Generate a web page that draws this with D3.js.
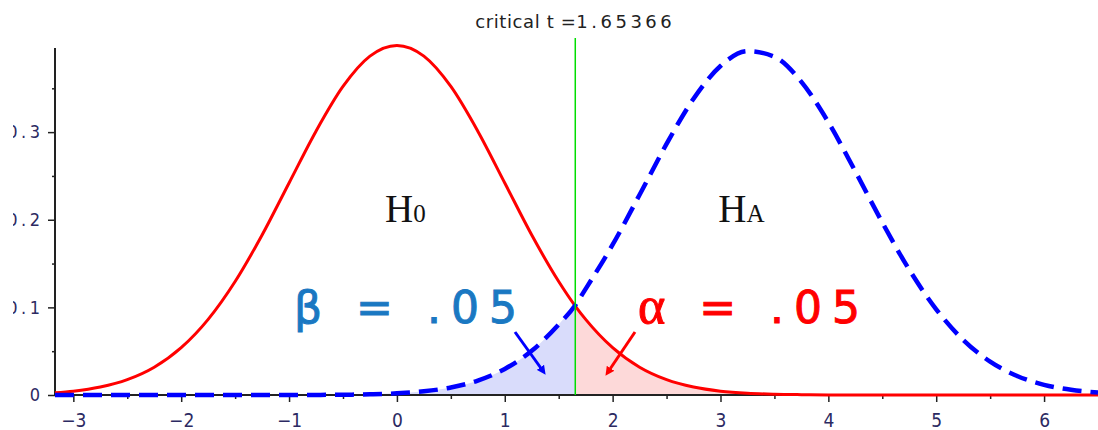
<!DOCTYPE html>
<html>
<head>
<meta charset="utf-8">
<script src="https://cdn.jsdelivr.net/npm/d3@7"></script>
<style>
  body { margin: 0; background: #fff; }
  svg { display: block; }
  .tick text { font-family: "DejaVu Sans Condensed", "DejaVu Sans", sans-serif; }
</style>
</head>
<body>
<div class="canvas"></div>
<script>
// data
const critT = 1.65366;
const tValues = [-3.17, -3, -2.75, -2.5, -2.25, -2, -1.75, -1.5, -1.25, -1, -0.75, -0.5, -0.25, 0,
  0.25, 0.5, 0.75, 1, 1.25, 1.5, 1.65366, 1.75, 2, 2.25, 2.5, 2.75, 3, 3.25, 3.5, 3.75, 4,
  4.25, 4.5, 4.75, 5, 5.25, 5.5, 5.75, 6, 6.25, 6.5];
const h0Density = [0.0026, 0.0044, 0.0091, 0.0175, 0.0317, 0.054, 0.0863, 0.1295, 0.1826, 0.242, 0.3011, 0.3521, 0.3867, 0.3989,
  0.3867, 0.3521, 0.3011, 0.242, 0.1826, 0.1295, 0.1015, 0.0863, 0.054, 0.0317, 0.0175, 0.0091, 0.0044, 0.002, 0.0009, 0.0004, 0.0001,
  0, 0, 0, 0, 0, 0, 0, 0, 0, 0];
const haDensity = [0, 0, 0, 0, 0, 0, 0, 0, 0, 0, 0.0001, 0.0003, 0.0008, 0.0019,
  0.0042, 0.0086, 0.0164, 0.0297, 0.0504, 0.0805, 0.1025, 0.1211, 0.1715, 0.2285, 0.2865, 0.3381, 0.3754, 0.3924, 0.386, 0.3573, 0.3113,
  0.2552, 0.1969, 0.143, 0.0978, 0.0629, 0.0381, 0.0217, 0.0116, 0.0059, 0.0028];
const xTicks = [-3, -2, -1, 0, 1, 2, 3, 4, 5, 6];
const xMinorTicks = [-2.5, -1.5, -0.5, 0.5, 1.5, 2.5, 3.5, 4.5, 5.5];
const yTicks = [0, 0.1, 0.2, 0.3];
const yMinorTicks = [0.05, 0.15, 0.25, 0.35];

// margins and dimensions
const w = 1098;
const h = 430;
const margin = { top: 48, right: 0, bottom: 35, left: 55 };

const svg = d3.select(".canvas").append("svg").attr("width", w).attr("height", h);
const defs = svg.append("defs");

const x = d3.scaleLinear().domain([-3.17, 6.5]).range([margin.left, w - margin.right]);
const y = d3.scaleLinear().domain([0, 0.396]).range([h - margin.bottom, margin.top]);

const pts = (vals) => tValues.map((t, i) => ({ t, d: vals[i] }));
const h0 = pts(h0Density);
const ha = pts(haDensity);

const line = d3.line().x((d) => x(d.t)).y((d) => y(d.d)).curve(d3.curveMonotoneX);
const area = d3.area().x((d) => x(d.t)).y0(y(0)).y1((d) => y(d.d)).curve(d3.curveMonotoneX);

// shaded tails
svg.append("path")
  .attr("d", area(ha.filter((d) => d.t <= critT)))
  .attr("fill", "#d9dcfb");
svg.append("path")
  .attr("d", area(h0.filter((d) => d.t >= critT)))
  .attr("fill", "#fdd9d9");

// axes
const xAxis = d3.axisBottom(x).tickValues(xTicks).tickSize(7).tickFormat(d3.format("d"));
const xMinor = d3.axisBottom(x).tickValues(xMinorTicks).tickSize(4).tickFormat("");
const yAxis = d3.axisLeft(y).tickValues(yTicks).tickSize(7).tickFormat((d) => (d === 0 ? "0" : d3.format(".1f")(d)));
const yMinor = d3.axisLeft(y).tickValues(yMinorTicks).tickSize(3).tickFormat("");

const styleAxis = (g) => {
  g.select(".domain").attr("stroke", "#222").attr("stroke-width", 2);
  g.selectAll(".tick line").attr("stroke", "#222").attr("stroke-width", 1.5);
  g.selectAll(".tick text").attr("fill", "#2c2a62").attr("font-size", 18);
};

// left edge of the y labels is cut off, as in the original screenshot
defs.append("clipPath").attr("id", "labelClip")
  .append("rect").attr("x", 13).attr("y", 0).attr("width", w).attr("height", h);

svg.append("g").attr("transform", `translate(0, ${y(0)})`).call(xMinor).call(styleAxis)
  .select(".domain").attr("d", `M${margin.left},0H${w}`);
svg.append("g").attr("transform", `translate(0, ${y(0)})`).call(xAxis).call(styleAxis)
  .call((g) => g.select(".domain").remove())
  .selectAll(".tick text").attr("dy", "1.15em").attr("font-size", 19);
svg.append("g").attr("transform", `translate(${margin.left}, 0)`).call(yMinor).call(styleAxis)
  .call((g) => g.select(".domain").remove());
svg.append("g").attr("clip-path", "url(#labelClip)")
  .append("g").attr("transform", `translate(${margin.left}, 0)`).call(yAxis).call(styleAxis)
  .call((g) => g.select(".domain").attr("d", `M0,${y(0)}V${margin.top}`))
  .selectAll(".tick text").attr("x", -15)
  .attr("letter-spacing", (d) => (d === 0 ? 0 : 3.5))
  .attr("dx", (d) => (d === 0 ? 0 : 3.5));

// curves
svg.append("path")
  .attr("d", line(h0))
  .attr("fill", "none")
  .attr("stroke", "#ff0000")
  .attr("stroke-width", 3);
svg.append("path")
  .attr("d", line(ha))
  .attr("fill", "none")
  .attr("stroke", "#0000ff")
  .attr("stroke-width", 4.5)
  .attr("stroke-dasharray", "19,9");

// critical line
svg.append("line")
  .attr("x1", x(critT)).attr("x2", x(critT))
  .attr("y1", 38).attr("y2", y(0))
  .attr("stroke", "#00dd00")
  .attr("stroke-width", 1.5);

const title = svg.append("text")
  .attr("x", x(critT))
  .attr("y", 28)
  .attr("text-anchor", "middle")
  .attr("font-family", "DejaVu Sans, sans-serif")
  .attr("font-size", 18)
  .attr("fill", "#222");
title.append("tspan").attr("letter-spacing", 0.6).text("critical t =");
title.append("tspan").attr("letter-spacing", 3.5).text(critT);

// hypothesis labels
const hLabel = (tx, sub) => {
  const t = svg.append("text")
    .attr("x", x(tx))
    .attr("y", 222)
    .attr("font-family", "Liberation Serif, serif")
    .attr("font-size", 39)
    .attr("fill", "#111");
  t.append("tspan").text("H");
  t.append("tspan").attr("font-size", 25).text(sub);
};
hLabel(-0.11, "0");
hLabel(2.98, "A");

// beta / alpha annotations
const marker = (id, color) =>
  defs.append("marker")
    .attr("id", id)
    .attr("viewBox", "0 0 10 10")
    .attr("refX", 5).attr("refY", 5)
    .attr("markerWidth", 3).attr("markerHeight", 3)
    .attr("orient", "auto")
    .append("path").attr("d", "M0,0L10,5L0,10z").attr("fill", color);
marker("arrowBlue", "#0000ff");
marker("arrowRed", "#ff0000");

const bigLabel = (px, color, greek, greekFont, greekSize) => {
  const t = svg.append("text")
    .attr("x", px).attr("y", 323)
    .attr("font-family", "DejaVu Sans, sans-serif")
    .attr("font-size", 44)
    .attr("letter-spacing", 10)
    .attr("fill", color)
    .attr("stroke", color)
    .attr("stroke-width", 1);
  t.append("tspan").attr("font-family", greekFont).attr("font-size", greekSize).text(greek);
  t.append("tspan").text(" = .05");
};
bigLabel(294, "#1a78c2", "β", "DejaVu Sans, sans-serif", 44);
bigLabel(638, "#ff0000", "α", "Liberation Serif, serif", 52);

svg.append("line")
  .attr("x1", 515).attr("y1", 332).attr("x2", 543).attr("y2", 371)
  .attr("stroke", "#0000ff").attr("stroke-width", 3)
  .attr("marker-end", "url(#arrowBlue)");
svg.append("line")
  .attr("x1", 635).attr("y1", 332).attr("x2", 608).attr("y2", 372)
  .attr("stroke", "#ff0000").attr("stroke-width", 3)
  .attr("marker-end", "url(#arrowRed)");
</script>
</body>
</html>
